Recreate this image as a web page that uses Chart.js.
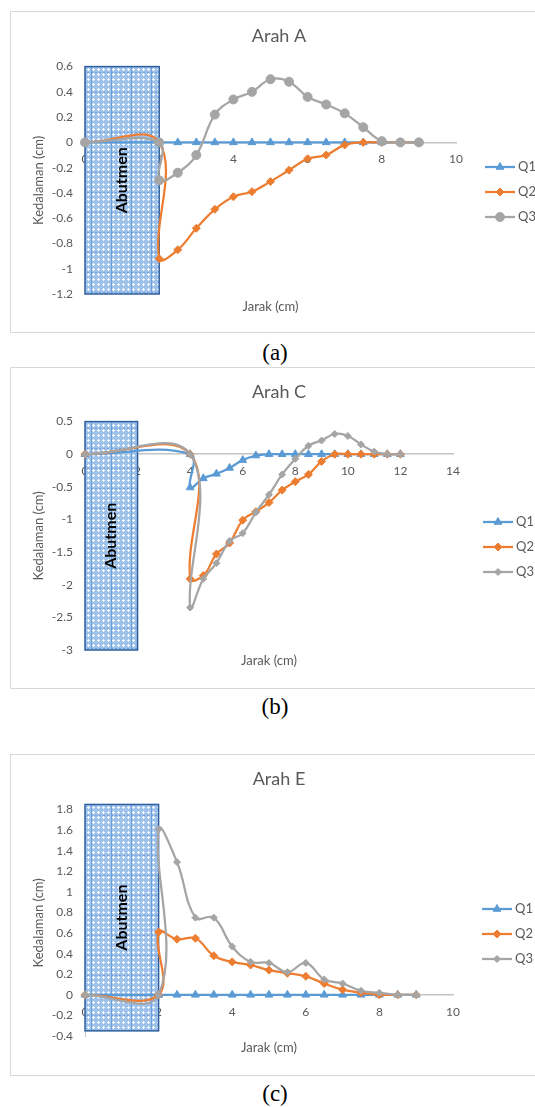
<!DOCTYPE html>
<html>
<head>
<meta charset="utf-8">
<script src="https://cdn.jsdelivr.net/npm/chart.js"></script>
<style>
  html, body { margin: 0; padding: 0; background: #fff; overflow: hidden; }
  body { width: 535px; height: 1107px; position: relative; }
  .box { position: absolute; left: 10px; width: 600px; height: 322px; border: 1px solid #d9d9d9; box-sizing: border-box; }
  .box canvas { position: absolute; left: 0; top: 0; }
  .cap { position: absolute; left: 0; width: 550px; text-align: center; font-family: "Liberation Serif", serif; font-size: 23px; line-height: 26px; color: #000; }
</style>
</head>
<body>
<div class="box" style="top:11px"><canvas id="chartA" width="524" height="320"></canvas></div>
<div class="cap" style="top:340px">(a)</div>
<div class="box" style="top:367px"><canvas id="chartC" width="524" height="320"></canvas></div>
<div class="cap" style="top:694px">(b)</div>
<div class="box" style="top:754px"><canvas id="chartE" width="524" height="320"></canvas></div>
<div class="cap" style="top:1081px">(c)</div>

<script>
// Nama seri
const seri = ["Q1", "Q2", "Q3"];

// Arah A
const jarakA = [0, 2, 2, 2.5, 3, 3.5, 4, 4.5, 5, 5.5, 6, 6.5, 7, 7.5, 8, 8.5, 9];
const q1A = [0, 0, 0, 0, 0, 0, 0, 0, 0, 0, 0, 0, 0, 0, 0, 0, 0];
const q2A = [0, 0, -0.92, -0.85, -0.68, -0.53, -0.43, -0.39, -0.31, -0.22, -0.13, -0.10, -0.02, 0, 0, 0, 0];
const q3A = [0, 0, -0.30, -0.24, -0.10, 0.22, 0.34, 0.40, 0.50, 0.48, 0.36, 0.30, 0.23, 0.12, 0.01, 0, 0];
const xTicksA = [0, 2, 4, 6, 8, 10];
const yTicksA = [-1.2, -1, -0.8, -0.6, -0.4, -0.2, 0, 0.2, 0.4, 0.6];

// Arah C
const jarakC = [0, 4, 4, 4.5, 5, 5.5, 6, 6.5, 7, 7.5, 8, 8.5, 9, 9.5, 10, 10.5, 11, 11.5, 12];
const q1C = [0, 0, -0.51, -0.37, -0.30, -0.21, -0.09, -0.02, 0, 0, 0, 0, 0, 0, 0, 0, 0, 0, 0];
const q2C = [0, 0, -1.91, -1.86, -1.53, -1.36, -1.01, -0.88, -0.74, -0.55, -0.42, -0.31, -0.11, 0, 0, 0, 0, 0, 0];
const q3C = [0, 0, -2.35, -1.91, -1.67, -1.33, -1.21, -0.89, -0.62, -0.31, -0.07, 0.13, 0.21, 0.31, 0.28, 0.15, 0.04, 0, 0];
const xTicksC = [0, 2, 4, 6, 8, 10, 12, 14];
const yTicksC = [-3, -2.5, -2, -1.5, -1, -0.5, 0, 0.5];

// Arah E
const jarakE = [0, 2, 2, 2.5, 3, 3.5, 4, 4.5, 5, 5.5, 6, 6.5, 7, 7.5, 8, 8.5, 9];
const q1E = [0, 0, 0, 0, 0, 0, 0, 0, 0, 0, 0, 0, 0, 0, 0, 0, 0];
const q2E = [0, 0, 0.61, 0.54, 0.55, 0.38, 0.32, 0.29, 0.24, 0.21, 0.18, 0.11, 0.05, 0.02, 0, 0, 0];
const q3E = [0, 0, 1.61, 1.29, 0.75, 0.75, 0.47, 0.32, 0.31, 0.22, 0.31, 0.15, 0.11, 0.04, 0.02, 0, 0];
const xTicksE = [0, 2, 4, 6, 8, 10];
const yTicksE = [-0.4, -0.2, 0, 0.2, 0.4, 0.6, 0.8, 1, 1.2, 1.4, 1.6, 1.8];

// Daerah abutmen (jarak, kedalaman)
const abutJarak = [0, 2];
const abutA = [-1.2, 0.6];
const abutC = [-3, 0.5];
const abutE = [-0.35, 1.85];

const abu = "#595959";
const huruf = "Lato, 'Open Sans', sans-serif";
const warna = ["#5B9BD5", "#ED7D31", "#A5A5A5"];

// pola arsiran abutmen
function polaAbutmen() {
  const t = document.createElement("canvas");
  t.width = 20; t.height = 20;
  const g = t.getContext("2d");
  g.fillStyle = "#9EC2EA";
  g.fillRect(0, 0, 20, 20);
  g.fillStyle = "rgba(255,255,255,0.9)";
  for (let i = 2; i < 20; i += 5) {
    for (let j = 2; j < 20; j += 5) {
      g.fillRect(i - 1, j, 3, 1);
      g.fillRect(i, j - 1, 1, 3);
    }
  }
  g.fillStyle = "#6E9FD8";
  g.fillRect(0, 0, 1, 20);
  for (let i = 0; i < 20; i += 4) g.fillRect(i, 0, 2, 1);
  return t;
}

const abutmenPlugin = {
  id: "abutmen",
  beforeDatasetsDraw(chart, args, opts) {
    const { ctx, scales: { x, y } } = chart;
    const x0 = x.getPixelForValue(opts.jarak[0]);
    const x1 = x.getPixelForValue(opts.jarak[1]);
    const yT = y.getPixelForValue(opts.dalam[1]);
    const yB = y.getPixelForValue(opts.dalam[0]);
    ctx.save();
    ctx.fillStyle = ctx.createPattern(polaAbutmen(), "repeat");
    ctx.fillRect(x0, yT, x1 - x0, yB - yT);
    ctx.strokeStyle = "#2F5F9E";
    ctx.lineWidth = 1.5;
    ctx.strokeRect(x0, yT, x1 - x0, yB - yT);
    ctx.translate((x0 + x1) / 2, (yT + yB) / 2);
    ctx.rotate(-Math.PI / 2);
    ctx.fillStyle = "#000";
    ctx.font = "bold 16px " + huruf;
    ctx.textAlign = "center";
    ctx.textBaseline = "middle";
    ctx.fillText("Abutmen", 0, 0);
    ctx.restore();
  }
};

const legendPlugin = {
  id: "legendSeri",
  afterDraw(chart, args, opts) {
    const ctx = chart.ctx;
    chart.data.datasets.forEach((ds, i) => {
      const y = opts.y + i * 25;
      ctx.save();
      ctx.strokeStyle = ds.borderColor;
      ctx.lineWidth = 2.25;
      ctx.beginPath();
      ctx.moveTo(opts.x, y);
      ctx.lineTo(opts.x + 30, y);
      ctx.stroke();
      ctx.fillStyle = ds.backgroundColor;
      ctx.lineWidth = 1;
      Chart.helpers.drawPoint(ctx, { pointStyle: ds.pointStyle, radius: ds.pointRadius, rotation: 0, borderWidth: 1 }, opts.x + 15, y);
      ctx.fillStyle = abu;
      ctx.font = "13px " + huruf;
      ctx.textAlign = "left";
      ctx.textBaseline = "middle";
      ctx.fillText(ds.label, opts.x + 33, y);
      ctx.restore();
    });
  }
};

const fmt = (v) => String(Number(Number(v).toFixed(2)));

function buatGrafik(id, o) {
  const gaya = ["triangle", "rectRot", o.titikQ3];
  const jari = [4.5, 4, o.titikQ3 === "circle" ? 4.5 : 3.5];
  const datasets = o.seri.map((ys, i) => ({
    label: seri[i],
    data: o.jarak.map((x, k) => ({ x: x, y: ys[k] })),
    showLine: true,
    tension: 0.4,
    borderColor: warna[i],
    backgroundColor: warna[i],
    borderWidth: 2.25,
    pointStyle: gaya[i],
    pointRadius: jari[i],
    pointBorderWidth: 1,
    order: 3 - i,
    clip: false,
    xAxisID: "x",
    yAxisID: "y"
  }));

  return new Chart(document.getElementById(id), {
    type: "scatter",
    data: { datasets: datasets },
    plugins: [abutmenPlugin, legendPlugin],
    options: {
      responsive: false,
      animation: false,
      layout: { padding: { left: 12, top: 0, right: 0, bottom: 0 } },
      plugins: {
        legend: { display: false },
        tooltip: { enabled: false },
        title: {
          display: true,
          text: o.judul,
          color: abu,
          font: { family: huruf, size: 18, weight: "normal" },
          padding: { top: 13, bottom: o.judulBawah }
        },
        abutmen: { jarak: abutJarak, dalam: o.abut },
        legendSeri: { x: o.legX, y: o.legY }
      },
      scales: {
        x: {
          type: "linear",
          position: { y: 0 },
          min: o.xTicks[0],
          max: o.xTicks[o.xTicks.length - 1],
          afterBuildTicks: (s) => { s.ticks = o.xTicks.map((v) => ({ value: v })); },
          afterFit: (s) => { s.height = 0; },
          ticks: { padding: 10, color: abu, font: { family: huruf, size: 12 }, autoSkip: false, maxRotation: 0, callback: fmt },
          grid: { display: false, drawTicks: false },
          border: { display: true, color: "#C4C4C4", width: 1.5 }
        },
        y: {
          type: "linear",
          position: "left",
          min: o.yTicks[0],
          max: o.yTicks[o.yTicks.length - 1],
          afterBuildTicks: (s) => { s.ticks = o.yTicks.map((v) => ({ value: v })); },
          afterFit: (s) => { s.width = 62; },
          ticks: { padding: 12, color: abu, font: { family: huruf, size: 12 }, autoSkip: false, callback: fmt },
          grid: { display: false, drawTicks: false },
          border: { display: true, color: "#C4C4C4", width: 1 },
          title: { display: true, text: "Kedalaman (cm)", color: abu, font: { family: huruf, size: 13 }, padding: { top: 8, bottom: 0 } }
        },
        yKanan: {
          type: "linear",
          position: "right",
          ticks: { display: false },
          grid: { display: false, drawTicks: false },
          border: { display: false },
          afterFit: (s) => { s.width = o.kanan; }
        },
        xBawah: {
          type: "linear",
          position: "bottom",
          min: o.xTicks[0],
          max: o.xTicks[o.xTicks.length - 1],
          ticks: { display: false },
          grid: { display: false, drawTicks: false },
          border: { display: false },
          afterFit: (s) => { s.height = o.bawah; },
          title: { display: true, text: "Jarak (cm)", color: abu, font: { family: huruf, size: 13 }, padding: { top: 0, bottom: o.jarakBawah } }
        }
      }
    }
  });
}

buatGrafik("chartA", {
  judul: "Arah A", jarak: jarakA, seri: [q1A, q2A, q3A], titikQ3: "circle",
  xTicks: xTicksA, yTicks: yTicksA, abut: abutA,
  judulBawah: 20, kanan: 79, bawah: 38, jarakBawah: 17, legX: 474, legY: 155
});
buatGrafik("chartC", {
  judul: "Arah C", jarak: jarakC, seri: [q1C, q2C, q3C], titikQ3: "rectRot",
  xTicks: xTicksC, yTicks: yTicksC, abut: abutC,
  judulBawah: 19, kanan: 82, bawah: 38, jarakBawah: 19, legX: 472, legY: 154
});
buatGrafik("chartE", {
  judul: "Arah E", jarak: jarakE, seri: [q1E, q2E, q3E], titikQ3: "rectRot",
  xTicks: xTicksE, yTicks: yTicksE, abut: abutE,
  judulBawah: 20, kanan: 82, bawah: 39, jarakBawah: 19, legX: 471, legY: 154
});
</script>
</body>
</html>
